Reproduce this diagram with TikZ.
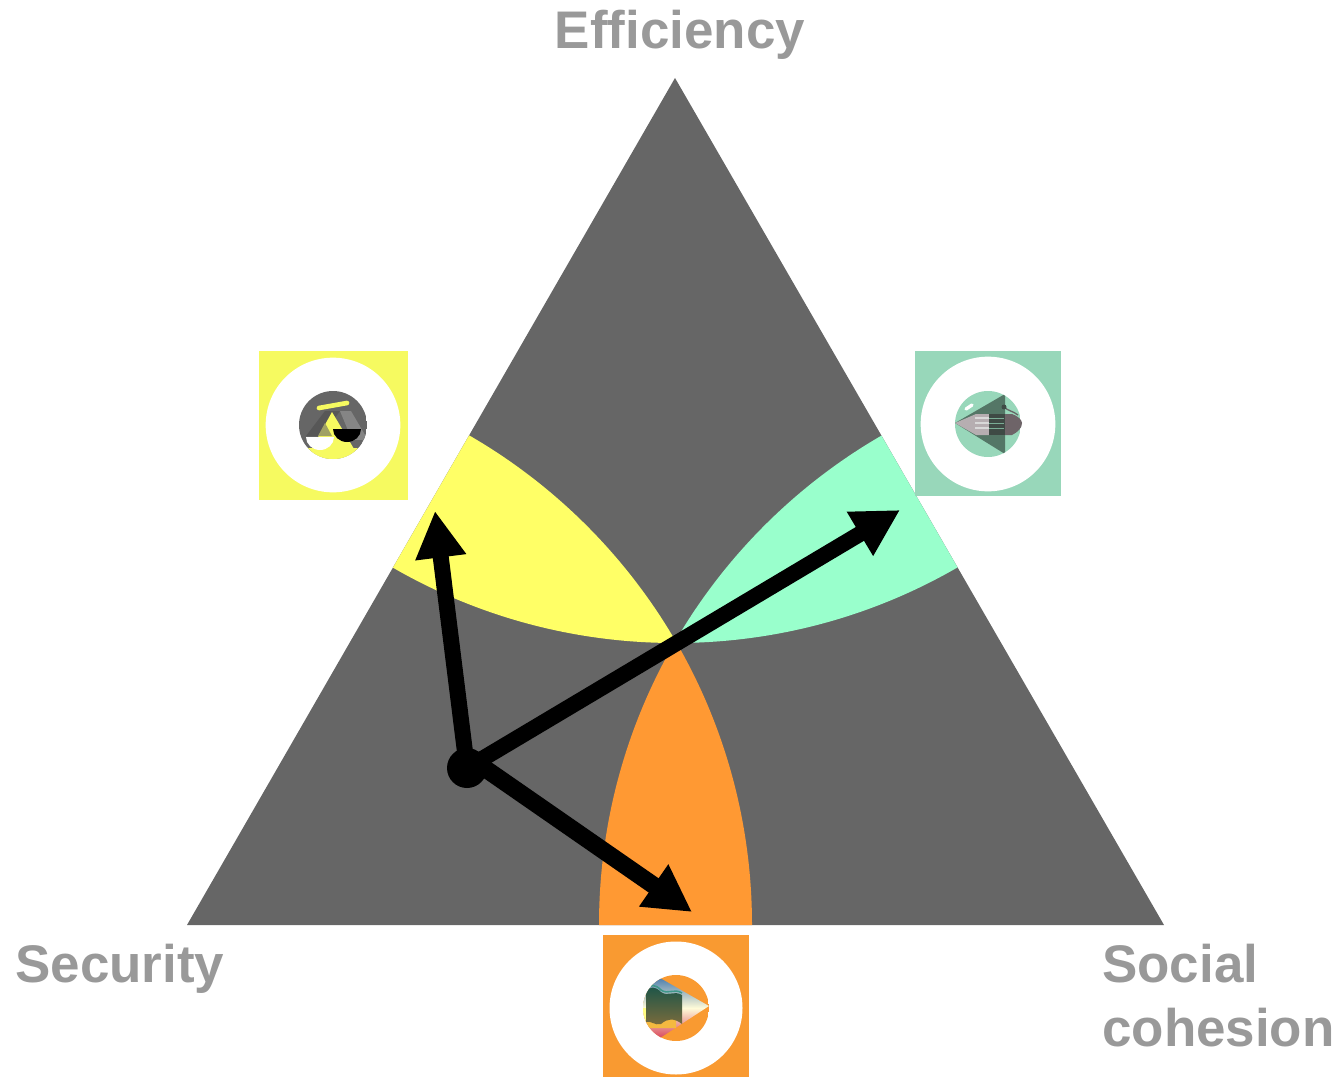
\documentclass[tikz,border=0pt]{standalone}
\usepackage{fontspec}
\setmainfont{Liberation Sans}
\usetikzlibrary{arrows.meta, positioning}
\definecolor{zonegrey}{HTML}{666666}
\definecolor{zoneyellow}{HTML}{FFFF66}
\definecolor{zonemint}{HTML}{99FFCC}
\definecolor{zoneorange}{HTML}{FF9933}
\definecolor{iconyellow}{HTML}{F6FA60}
\definecolor{iconmint}{HTML}{98D7BA}
\definecolor{iconorange}{HTML}{F99A31}
\definecolor{labelgrey}{HTML}{999999}
\definecolor{coneblue}{HTML}{4F7FAE}
\definecolor{conepale}{HTML}{FFFBD8}
\definecolor{conered}{HTML}{D8485E}
\definecolor{blockgreen}{HTML}{1C5548}
\definecolor{blockbrown}{HTML}{7D6C3C}
\definecolor{wavebump}{HTML}{F4B940}
\definecolor{bodypale}{HTML}{B6AEB1}
\definecolor{bodydark}{HTML}{3F4A45}
\definecolor{bodyend}{HTML}{6E6468}
\begin{document}
\begin{tikzpicture}[x=0.75pt, y=-0.75pt]
\tikzstyle{corner}=[text=labelgrey, font=\fontsize{39.7}{48}\selectfont\bfseries, inner sep=0pt, align=left]
\tikzstyle{connect}=[-{Triangle[length=35pt, width=36pt]}, line width=12pt, black]
\tikzstyle{disc}=[circle, fill=white, inner sep=0pt, minimum size=101pt]
\useasboundingbox (0,0) rectangle (1342,1077);
\coordinate (top) at (675,78);
\coordinate (left) at (187,925);
\coordinate (right) at (1164,925);
\fill[zonegrey] (top) -- (left) -- (right) -- cycle;
% the three zones
\begin{scope}
\clip (left) circle (565);
\clip (top) circle (565);
\fill[zoneyellow] (top) -- (left) -- (right) -- cycle;
\end{scope}
\begin{scope}
\clip (right) circle (565);
\clip (top) circle (565);
\fill[zonemint] (top) -- (left) -- (right) -- cycle;
\end{scope}
\begin{scope}
\clip (left) circle (565);
\clip (right) circle (565);
\fill[zoneorange] (top) -- (left) -- (right) -- cycle;
\end{scope}
% labels
\node[corner, anchor=base] (efficiency) at (680,49) {Efficiency};
\node[corner, anchor=base west] (security) at (15,982) {Security};
\node[corner, anchor=base west] (social) at (1102,982) {Social};
\node[corner, anchor=base west] (cohesion) at (1102,1046) {cohesion};
% yellow icon
\node[fill=iconyellow, minimum width=111.75pt, minimum height=111.75pt, inner sep=0pt] (scales) at (333.5,425.5) {};
\node[disc] (scalesdisc) at (333,425) {};
\begin{scope}
\clip (333,425) circle (34);
\fill[zonegrey] (299,391) rectangle (367,459);
\fill[zonegrey!85!black] (306,436) -- (325,411) -- (340,411) -- (322,436) -- cycle;
\fill[zonegrey!80!white] (340,411) -- (351,411) -- (368,440) -- (352,440) -- cycle;
\fill[iconyellow] (332,412) -- (360,459) -- (306,459) -- cycle;
\fill[iconyellow] (299,448) rectangle (367,459);
\fill[zonegrey!60!iconyellow] (325,423) -- (318,436) -- (332,436) -- cycle;
\fill[zonegrey] (352,440) -- (362,440) -- (360,459) -- (358,449) -- cycle;
\fill[white] (306,437) arc[start angle=180, end angle=0, x radius=14, y radius=13] -- cycle;
\fill[black] (333,429) arc[start angle=180, end angle=0, x radius=14, y radius=13] -- cycle;
\end{scope}
\draw[iconyellow, line width=3.5pt, line cap=round] (319,408) -- (347,403);
% mint icon
\node[fill=iconmint, minimum width=109.5pt, minimum height=108.75pt, inner sep=0pt] (hand) at (988,423.5) {};
\node[disc] (handdisc) at (988,424) {};
\begin{scope}
\clip (988,424) circle (33);
\fill[iconmint] (955,391) rectangle (1021,457);
\fill[iconmint!55!black] (955,423) -- (1005,394) -- (1005,454) -- cycle;
\draw[white, line width=2.5pt, line cap=round] (966,409) -- (972,405);
\draw[zonegrey, line width=1pt] (1004,407) .. controls (1008,411) and (1013,411) .. (1018,415);
\end{scope}
\fill[bodydark] (1004,407) circle (2.5);
\fill[bodypale] (955,423) -- (976,414) -- (989,414) -- (989,435) -- (976,435) -- cycle;
\fill[bodydark] (989,414) rectangle (1005,435);
\fill[bodyend] (1005,414) -- (1012,414) .. controls (1018,416) and (1022,420) .. (1022,423) .. controls (1022,428) and (1018,432) .. (1012,435) -- (1005,435) -- cycle;
\foreach \y in {418,423,428}
  \draw[white!85!black, line width=0.9pt] (975,\y) -- (989,\y);
\foreach \y in {418,423,428}
  \draw[iconmint!80!black, line width=0.6pt] (989,\y) -- (1004,\y);
% orange icon
\node[fill=iconorange, minimum width=109.5pt, minimum height=106.5pt, inner sep=0pt] (pencil) at (676,1006) {};
\node[disc, minimum size=99.75pt] (pencildisc) at (676,1008) {};
\begin{scope}
\clip (676,1008) circle (33);
\fill[iconorange] (643,975) rectangle (709,1041);
\shade[top color=coneblue, bottom color=conered, middle color=conepale] (709,1006) -- (660,978) -- (643,978) -- (643,1038) -- (660,1038) -- cycle;
\fill[wavebump] (646,1022) .. controls (650,1014) and (656,1016) .. (661,1023) .. controls (666,1018) and (670,1014) .. (676,1020) -- (676,1028) -- (646,1028) -- cycle;
\fill[conepale!60!yellow] (643,1008) rectangle (648,1022);
\shade[top color=blockgreen, bottom color=blockbrown] (646,992) .. controls (650,986) and (655,986) .. (661,992) .. controls (668,997) and (674,990) .. (682,995) -- (682,1024) .. controls (674,1018) and (668,1018) .. (661,1024) .. controls (655,1026) and (650,1020) .. (646,1022) -- cycle;
\draw[coneblue!80!green, line width=1.2pt] (646,990) .. controls (650,984) and (655,984) .. (661,990) .. controls (668,995) and (674,988) .. (682,993);
\end{scope}
% arrows
\node[circle, fill=black, inner sep=0pt, minimum size=30pt] (point) at (467,768) {};
\coordinate (tailorange) at (467,756);
\coordinate (tipyellow) at (435,511);
\coordinate (tipmint) at (900,510);
\coordinate (tiporange) at (692,912);
\draw[connect] (point.center) -- (tipyellow);
\draw[connect] (point.center) -- (tipmint);
\draw[connect, line width=13pt] (tailorange) -- (tiporange);
\end{tikzpicture}
\end{document}
